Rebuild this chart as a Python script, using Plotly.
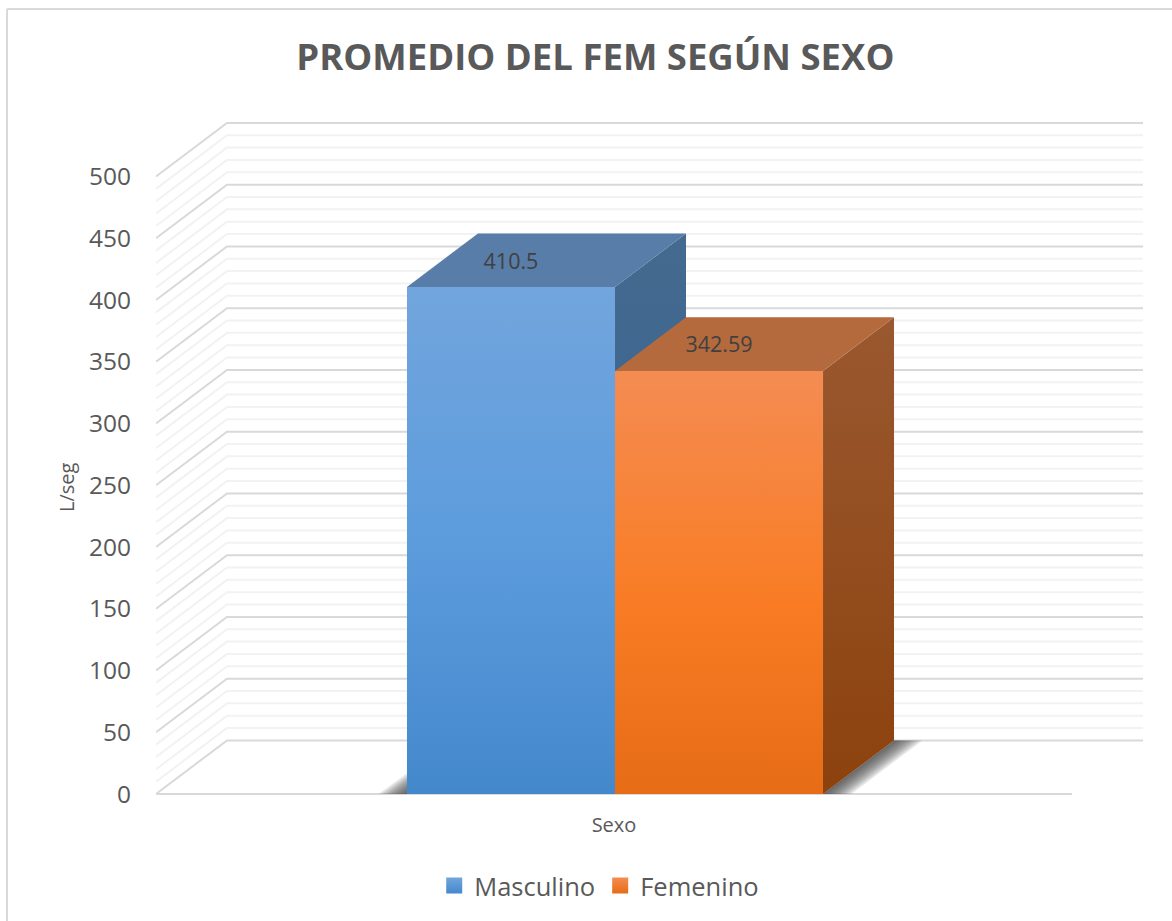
import plotly.graph_objects as go

TITLE = "PROMEDIO DEL FEM SEGÚN SEXO"
X_TITLE = "Sexo"
Y_TITLE = "L/seg"
SERIES = ["Masculino", "Femenino"]
VALUES = [410.5, 342.59]
LABELS = ["410.5", "342.59"]
Y_MAJOR = [0, 50, 100, 150, 200, 250, 300, 350, 400, 450, 500]
Y_MINOR = [v for v in range(0, 501, 10) if v % 50 != 0]

# fake 3d box, in axis units
BAR_W = 0.2271
BAR_MID = 0.0011
DEPTH_X = 0.0775
DEPTH_Y = 43.4
X_MIN, X_MAX = -0.5, 0.5

# vertical gradients run bottom to top
FRONT = [
    [[0, "#4488cc"], [0.5, "#5c9cdd"], [1, "#72a5dd"]],
    [[0, "#e66c15"], [0.45, "#f97c24"], [1, "#f48c52"]],
]
SIDE = [
    [[0, "#2f5f92"], [1, "#456a8f"]],
    [[0, "#8c420d"], [1, "#9a5830"]],
]
TOP = ["#587da8", "#b56a3e"]
TEXT = "#595959"

fig = go.Figure()


def wall_lines(values, color, width):
    xs, ys = [], []
    for v in values:
        xs += [X_MIN, X_MIN + DEPTH_X, X_MAX + DEPTH_X, None]
        ys += [v, v + DEPTH_Y, v + DEPTH_Y, None]
    fig.add_trace(go.Scatter(x=xs, y=ys, mode="lines", line={"color": color, "width": width},
                             showlegend=False, hoverinfo="skip"))


def poly(xs, ys, color=None, gradient=None):
    style = {"fillgradient": {"type": "vertical", "colorscale": gradient}} if gradient else {"fillcolor": color}
    fig.add_trace(go.Scatter(x=xs, y=ys, mode="lines", fill="toself", line={"width": 0},
                             showlegend=False, hoverinfo="skip", **style))


wall_lines(Y_MINOR, "#f2f2f2", 2)
wall_lines(Y_MAJOR, "#d9d9d9", 2)
fig.add_trace(go.Scatter(x=[X_MIN, X_MAX], y=[0, 0], mode="lines", line={"color": "#d9d9d9", "width": 2},
                         showlegend=False, hoverinfo="skip"))

# blurred floor shadow, stacked layers
right = BAR_MID + BAR_W
left = BAR_MID - BAR_W
for i in range(1, 11):
    off = 0.0031 * i
    poly([right, right + DEPTH_X, right + DEPTH_X + off, right + off],
         [0, DEPTH_Y, DEPTH_Y, 0], color="rgba(60,60,60,0.13)")
    poly([left, left - off, left], [0, 0, off * 540], color="rgba(60,60,60,0.13)")

for i, value in enumerate(VALUES):
    x0 = left + i * BAR_W
    x1 = x0 + BAR_W
    poly([x0, x1, x1, x0, x0], [0, 0, value, value, 0], gradient=FRONT[i])
    poly([x1, x1 + DEPTH_X, x1 + DEPTH_X, x1, x1],
         [0, DEPTH_Y, value + DEPTH_Y, value, 0], gradient=SIDE[i])
    poly([x0, x1, x1 + DEPTH_X, x0 + DEPTH_X, x0],
         [value, value, value + DEPTH_Y, value + DEPTH_Y, value], color=TOP[i])
    fig.add_trace(go.Scatter(x=[(x0 + x1) / 2], y=[value + DEPTH_Y / 2 - 2.4], mode="text", text=[LABELS[i]],
                             textfont={"size": 21.5, "color": "#404040"}, showlegend=False, hoverinfo="skip"))

# legend entries only
for i, name in enumerate(SERIES):
    fig.add_trace(go.Scatter(
        x=[None], y=[None], mode="markers", name=name,
        marker={"symbol": "square", "size": 16, "color": FRONT[i][2][1],
                "gradient": {"type": "vertical", "color": FRONT[i][0][1]}},
    ))

fig.update_layout(
    width=1172,
    height=921,
    paper_bgcolor="white",
    plot_bgcolor="white",
    font={"family": "Open Sans, sans-serif", "color": TEXT},
    margin={"l": 156, "r": 20, "t": 100, "b": 121, "autoexpand": False},
    title={"text": "<b>" + TITLE + "</b>", "x": 0.508, "xanchor": "center", "y": 0.938, "yanchor": "middle",
           "font": {"size": 36.5, "color": TEXT}},
    legend={"orientation": "h", "x": 0.445, "xanchor": "center", "y": 0.038, "yanchor": "middle",
            "yref": "container", "font": {"size": 25.5, "color": TEXT}},
    shapes=[
        {"type": "line", "xref": "paper", "yref": "paper", "x0": -0.1496, "x1": -0.1496, "y0": 1.13, "y1": -0.2,
         "line": {"color": "#d9d9d9", "width": 2}},
        {"type": "line", "xref": "paper", "yref": "paper", "x0": -0.1496, "x1": 1.03, "y0": 1.13, "y1": 1.13,
         "line": {"color": "#d9d9d9", "width": 2}},
    ],
    annotations=[
        {"text": Y_TITLE, "xref": "paper", "yref": "paper", "x": -0.0904, "y": 0.447, "showarrow": False,
         "textangle": -90, "xanchor": "center", "yanchor": "middle", "font": {"size": 20, "color": TEXT}},
    ],
)
fig.update_xaxes(
    range=[X_MIN, X_MIN + 996 / 916], showgrid=False, zeroline=False, showline=False,
    tickmode="array", tickvals=[0], ticktext=[X_TITLE], ticks="outside", ticklen=7,
    tickcolor="rgba(0,0,0,0)", tickfont={"size": 20, "color": TEXT},
)
fig.update_yaxes(
    range=[-6 / 1.235, 694 / 1.235], showgrid=False, zeroline=False, showline=False,
    tickmode="array", tickvals=Y_MAJOR, ticks="outside", ticklen=19,
    tickcolor="rgba(0,0,0,0)", tickfont={"size": 24.5, "color": TEXT},
)

# page body has a default margin, drop it so the figure fills the window
fig.write_html("out.html", config={"displayModeBar": False}, post_script="document.body.style.margin='0';")
